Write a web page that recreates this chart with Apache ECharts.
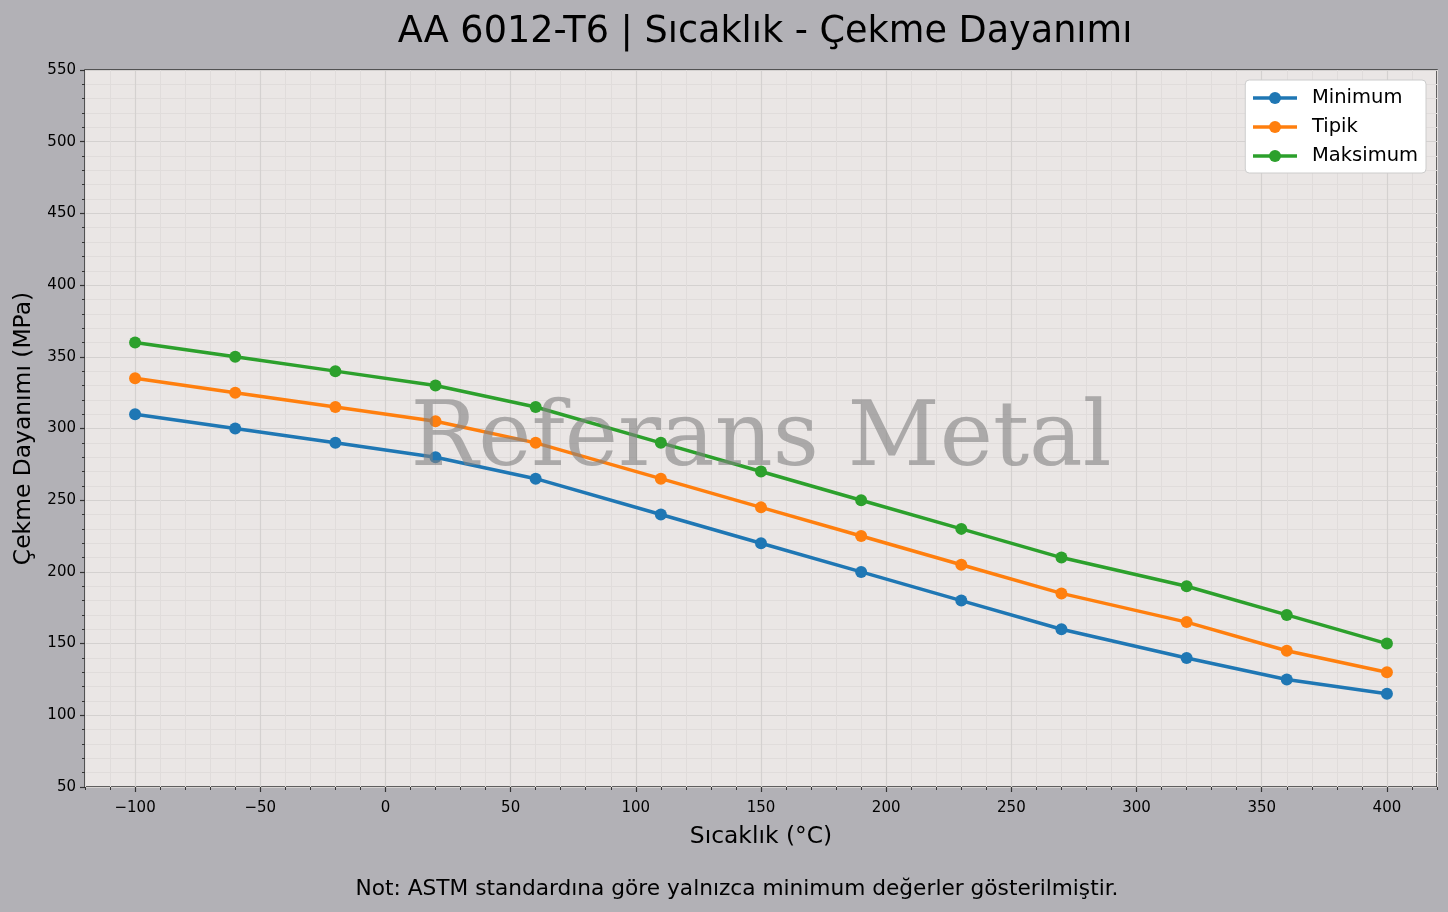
<!DOCTYPE html>
<html><head><meta charset="utf-8">
<script src="https://cdn.jsdelivr.net/npm/echarts@6/dist/echarts.min.js"></script>
<style>html,body{margin:0;padding:0;background:#b2b1b6;}#c{width:1448px;height:912px;}</style>
</head><body><div id="c"></div>
<script>
const temps = [-100, -60, -20, 20, 60, 110, 150, 190, 230, 270, 320, 360, 400];
const minVals = [310, 300, 290, 280, 265, 240, 220, 200, 180, 160, 140, 125, 115];
const typVals = [335, 325, 315, 305, 290, 265, 245, 225, 205, 185, 165, 145, 130];
const maxVals = [360, 350, 340, 330, 315, 290, 270, 250, 230, 210, 190, 170, 150];
const xMajorTicks = [-100, -50, 0, 50, 100, 150, 200, 250, 300, 350, 400];
const seriesNames = ['Minimum', 'Tipik', 'Maksimum'];
const colors = ['#1f77b4', '#ff7f0e', '#2ca02c'];

const font = 'DejaVu Sans';
const fmt = v => String(v).replace('-', '\u2212');
const pair = vals => temps.map((t, i) => [t, vals[i]]);

const chart = echarts.init(document.getElementById('c'));
const mk = (name, vals, color) => ({
  name, type: 'line', data: pair(vals), xAxisIndex: 0, yAxisIndex: 0,
  symbol: 'circle', symbolSize: 12, color,
  lineStyle: { width: 3.5, color }, itemStyle: { color }, z: 5
});
chart.setOption({
  backgroundColor: '#b2b1b6',
  animation: false,
  title: {
    text: 'AA 6012-T6 | Sıcaklık - Çekme Dayanımı',
    left: 760, top: 9, textAlign: 'center',
    textStyle: { fontFamily: font, fontSize: 36.6, fontWeight: 'normal', color: '#000' }
  },
  legend: {
    data: seriesNames, orient: 'vertical', right: 22, top: 80,
    backgroundColor: '#fff', borderColor: '#cccccc', borderWidth: 1, borderRadius: 4,
    padding: [8, 8, 7, 6], itemWidth: 44, itemHeight: 15, itemGap: 9,
    lineStyle: { width: 3.5 },
    textStyle: { fontFamily: font, fontSize: 19.5, color: '#000', padding: [0, 0, 0, 10] }
  },
  grid: {
    left: 85, right: 11, top: 70, bottom: 125,
    show: true, backgroundColor: '#eae6e5', borderColor: '#333', borderWidth: 1.5
  },
  xAxis: [{
    type: 'value', min: -120, max: 420, interval: 10, z: 1,
    name: 'Sıcaklık (°C)', nameLocation: 'middle', nameGap: 38,
    nameTextStyle: { fontFamily: font, fontSize: 23.4, color: '#000' },
    axisLine: { show: false, onZero: false },
    axisTick: { show: true, length: 5, customValues: xMajorTicks, lineStyle: { color: '#333', width: 1.2 } },
    axisLabel: { customValues: xMajorTicks, formatter: fmt, fontFamily: font, fontSize: 15, color: '#000', margin: 14 },
    splitLine: { show: true, lineStyle: { color: '#d4d1d0', width: 1.2 } }
  }, {
    type: 'value', min: -120, max: 420, interval: 10, z: 0, position: 'bottom',
    axisLine: { show: false, onZero: false },
    axisTick: { show: true, length: 3, lineStyle: { color: '#333', width: 1 } },
    axisLabel: { show: false },
    splitLine: { show: true, lineStyle: { color: '#e0dcdb', width: 1 } }
  }],
  yAxis: {
    type: 'value', min: 50, max: 550, interval: 50,
    name: 'Çekme Dayanımı (MPa)', nameLocation: 'middle', nameGap: 50,
    nameTextStyle: { fontFamily: font, fontSize: 23.4, color: '#000' },
    axisLine: { show: false, onZero: false },
    axisTick: { show: true, length: 5, lineStyle: { color: '#333', width: 1.2 } },
    minorTick: { show: true, splitNumber: 5, length: 3, lineStyle: { color: '#333', width: 1 } },
    axisLabel: { fontFamily: font, fontSize: 15, color: '#000', margin: 9 },
    splitLine: { show: true, lineStyle: { color: '#d4d1d0', width: 1.2 } },
    minorSplitLine: { show: true, lineStyle: { color: '#e0dcdb', width: 1 } }
  },
  series: [mk(seriesNames[0], minVals, colors[0]), mk(seriesNames[1], typVals, colors[1]), mk(seriesNames[2], maxVals, colors[2])],
  graphic: [{
    type: 'text', z: 100,
    style: { text: 'Referans Metal', x: 761, y: 442, align: 'center', verticalAlign: 'middle',
      font: '90px "DejaVu Serif"', fill: 'rgba(128,128,128,0.6)' }
  }, {
    type: 'text', z: 100,
    style: { text: 'Not: ASTM standardına göre yalnızca minimum değerler gösterilmiştir.', x: 737, y: 889,
      align: 'center', verticalAlign: 'middle', font: '21.7px "DejaVu Sans"', fill: '#000' }
  }]
});
</script></body></html>
